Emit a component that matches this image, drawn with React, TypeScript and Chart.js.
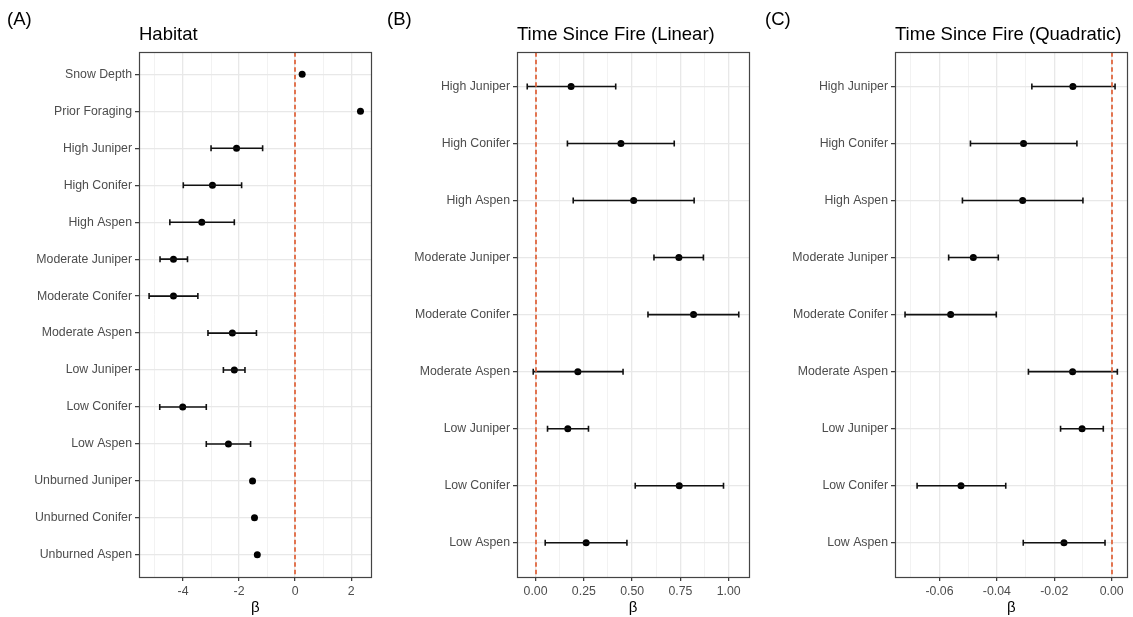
import React, { useEffect, useRef } from "react";
import { Chart, registerables } from "chart.js";

Chart.register(...registerables);

// ---------- Data ----------
const habitatCategories = [
  "Snow Depth", "Prior Foraging", "High Juniper", "High Conifer", "High Aspen",
  "Moderate Juniper", "Moderate Conifer", "Moderate Aspen", "Low Juniper",
  "Low Conifer", "Low Aspen", "Unburned Juniper", "Unburned Conifer", "Unburned Aspen",
];
const habitatEstimate = [0.25, 2.33, -2.09, -2.95, -3.33, -4.34, -4.34, -2.24, -2.17, -4.01, -2.38, -1.52, -1.45, -1.35];
const habitatLower = [null, null, -3.0, -3.99, -4.47, -4.82, -5.21, -3.11, -2.56, -4.83, -3.17, null, null, null];
const habitatUpper = [null, null, -1.16, -1.91, -2.17, -3.84, -3.47, -1.38, -1.79, -3.17, -1.59, null, null, null];
const habitatMajorTicks = [-4, -2, 0, 2];
const habitatTickLabels = ["-4", "-2", "0", "2"];
const habitatMinorTicks = [-5, -3, -1, 1];
const habitatRange = [-5.57, 2.72];

const fireCategories = [
  "High Juniper", "High Conifer", "High Aspen", "Moderate Juniper", "Moderate Conifer",
  "Moderate Aspen", "Low Juniper", "Low Conifer", "Low Aspen",
];
const linearEstimate = [0.184, 0.442, 0.508, 0.742, 0.818, 0.219, 0.167, 0.744, 0.262];
const linearLower = [-0.043, 0.165, 0.195, 0.613, 0.582, -0.012, 0.062, 0.516, 0.05];
const linearUpper = [0.415, 0.718, 0.821, 0.869, 1.052, 0.453, 0.274, 0.973, 0.473];
const linearMajorTicks = [0, 0.25, 0.5, 0.75, 1.0];
const linearTickLabels = ["0.00", "0.25", "0.50", "0.75", "1.00"];
const linearMinorTicks = [0.125, 0.375, 0.625, 0.875];
const linearRange = [-0.096, 1.105];

const quadEstimate = [-0.0135, -0.0307, -0.031, -0.0482, -0.0561, -0.0136, -0.0103, -0.0525, -0.0166];
const quadLower = [-0.0278, -0.0492, -0.052, -0.0568, -0.072, -0.029, -0.0178, -0.0678, -0.0308];
const quadUpper = [0.0012, -0.0121, -0.01, -0.0395, -0.0402, 0.002, -0.0029, -0.0369, -0.0023];
const quadMajorTicks = [-0.06, -0.04, -0.02, 0.0];
const quadTickLabels = ["-0.06", "-0.04", "-0.02", "0.00"];
const quadMinorTicks = [-0.07, -0.05, -0.03, -0.01];
const quadRange = [-0.0755, 0.0055];

const referenceValue = 0;

// ---------- Styling ----------
const FONT = "'Liberation Sans', Arial, Helvetica, sans-serif";
const CANVAS_H = 617;

type PanelProps = {
  tag: string;
  title: string;
  categories: string[];
  estimate: number[];
  lower: (number | null)[];
  upper: (number | null)[];
  majorTicks: number[];
  tickLabels: string[];
  minorTicks: number[];
  range: number[];
  left: number;
  width: number;
  yAxisWidth: number;
  rightPad: number;
  tagLeft: number;
};

const near = (a: number, b: number) => Math.abs(a - b) < 1e-9;

function Panel(p: PanelProps) {
  const ref = useRef<HTMLCanvasElement | null>(null);

  useEffect(() => {
    if (!ref.current) return;
    const n = p.categories.length;
    const isMajor = (v: number) => p.majorTicks.some((m) => near(m, v));

    const errorSets: any[] = [];
    p.estimate.forEach((_, i) => {
      const lo = p.lower[i];
      const hi = p.upper[i];
      if (lo === null || hi === null) return;
      errorSets.push({
        type: "scatter",
        showLine: true,
        data: [{ x: lo, y: i }, { x: hi, y: i }],
        borderColor: "#111111",
        borderWidth: 1.6,
        pointStyle: "line",
        pointRotation: 90,
        pointRadius: 3,
        pointBorderWidth: 1.6,
        pointBorderColor: "#111111",
        pointBackgroundColor: "#111111",
        fill: false,
      });
    });

    const frame = {
      id: "frame",
      afterDatasetsDraw(chart: any) {
        const { ctx, chartArea, scales } = chart;
        const x = Math.round(scales.x.getPixelForValue(referenceValue));
        ctx.save();
        ctx.strokeStyle = "#E0673F";
        ctx.lineWidth = 1.8;
        ctx.setLineDash([4.5, 3]);
        ctx.beginPath();
        ctx.moveTo(x, chartArea.top);
        ctx.lineTo(x, chartArea.bottom);
        ctx.stroke();
        ctx.restore();
      },
      afterDraw(chart: any) {
        const { ctx, chartArea } = chart;
        ctx.save();
        ctx.strokeStyle = "#444444";
        ctx.lineWidth = 1.2;
        ctx.strokeRect(
          Math.round(chartArea.left) + 0.5,
          Math.round(chartArea.top) + 0.5,
          Math.round(chartArea.right - chartArea.left),
          Math.round(chartArea.bottom - chartArea.top)
        );
        ctx.restore();
      },
    };

    const chart = new Chart(ref.current, {
      type: "scatter",
      data: {
        datasets: [
          ...errorSets,
          {
            type: "scatter",
            data: p.estimate.map((v, i) => ({ x: v, y: i })),
            pointRadius: 3.5,
            pointBackgroundColor: "#000000",
            pointBorderWidth: 0,
            pointBorderColor: "#000000",
          },
        ],
      },
      options: {
        responsive: false,
        animation: false,
        events: [],
        layout: { padding: { left: 0, right: p.rightPad, top: 0, bottom: 0 } },
        plugins: {
          legend: { display: false },
          tooltip: { enabled: false },
          title: {
            display: true,
            text: p.title,
            align: "start",
            fullSize: false,
            color: "#000000",
            font: { family: FONT, size: 18.5, weight: "normal" },
            padding: { top: 24, bottom: 6 },
          },
        },
        scales: {
          x: {
            type: "linear",
            min: p.range[0],
            max: p.range[1],
            afterBuildTicks: (scale: any) => {
              const all = [...p.majorTicks, ...p.minorTicks].sort((a, b) => a - b);
              scale.ticks = all.map((v) => ({ value: v }));
            },
            afterFit: (scale: any) => {
              scale.height = 40;
            },
            ticks: {
              autoSkip: false,
              maxRotation: 0,
              padding: 3,
              color: "#4d4d4d",
              font: { family: FONT, size: 12.3 },
              callback: (value: any) => {
                const idx = p.majorTicks.findIndex((m) => near(m, Number(value)));
                return idx >= 0 ? p.tickLabels[idx] : "";
              },
            },
            grid: {
              color: (ctx: any) => (ctx.tick && isMajor(ctx.tick.value) ? "#e8e8e8" : "#f2f2f2"),
              lineWidth: (ctx: any) => (ctx.tick && isMajor(ctx.tick.value) ? 1.3 : 1),
              drawTicks: true,
              tickLength: 4,
              tickWidth: 1.2,
              tickColor: (ctx: any) => (ctx.tick && isMajor(ctx.tick.value) ? "#333333" : "rgba(0,0,0,0)"),
            },
            border: { display: false },
            title: {
              display: true,
              text: "β",
              color: "#000000",
              font: { family: FONT, size: 15 },
              padding: 0,
            },
          },
          y: {
            type: "linear",
            reverse: true,
            min: -0.6,
            max: n - 1 + 0.6,
            afterBuildTicks: (scale: any) => {
              scale.ticks = p.categories.map((_, i) => ({ value: i }));
            },
            afterFit: (scale: any) => {
              scale.width = p.yAxisWidth;
            },
            ticks: {
              autoSkip: false,
              padding: 3,
              color: "#4d4d4d",
              font: { family: FONT, size: 12.3 },
              callback: (value: any) => p.categories[Number(value)] ?? "",
            },
            grid: {
              color: "#e8e8e8",
              lineWidth: 1.3,
              drawTicks: true,
              tickLength: 4,
              tickWidth: 1.2,
              tickColor: "#333333",
            },
            border: { display: false },
          },
        },
      },
      plugins: [frame],
    } as any);

    return () => chart.destroy();
  }, []);

  return (
    <div style={{ position: "absolute", left: p.left, top: 0, width: p.width, height: CANVAS_H }}>
      <canvas ref={ref} width={p.width} height={CANVAS_H} style={{ display: "block" }} />
      <div
        style={{
          position: "absolute",
          left: p.tagLeft,
          top: 9,
          fontFamily: FONT,
          fontSize: 18.5,
          lineHeight: "20px",
          color: "#000",
        }}
      >
        {p.tag}
      </div>
    </div>
  );
}

export default function App() {
  return (
    <div
      style={{
        position: "fixed",
        left: 0,
        top: 0,
        width: 1133,
        height: CANVAS_H,
        background: "#ffffff",
        overflow: "hidden",
      }}
    >
      <Panel
        tag="(A)"
        title="Habitat"
        categories={habitatCategories}
        estimate={habitatEstimate}
        lower={habitatLower}
        upper={habitatUpper}
        majorTicks={habitatMajorTicks}
        tickLabels={habitatTickLabels}
        minorTicks={habitatMinorTicks}
        range={habitatRange}
        left={0}
        width={377}
        yAxisWidth={139}
        rightPad={5}
        tagLeft={7}
      />
      <Panel
        tag="(B)"
        title="Time Since Fire (Linear)"
        categories={fireCategories}
        estimate={linearEstimate}
        lower={linearLower}
        upper={linearUpper}
        majorTicks={linearMajorTicks}
        tickLabels={linearTickLabels}
        minorTicks={linearMinorTicks}
        range={linearRange}
        left={377}
        width={378}
        yAxisWidth={140}
        rightPad={6}
        tagLeft={10}
      />
      <Panel
        tag="(C)"
        title="Time Since Fire (Quadratic)"
        categories={fireCategories}
        estimate={quadEstimate}
        lower={quadLower}
        upper={quadUpper}
        majorTicks={quadMajorTicks}
        tickLabels={quadTickLabels}
        minorTicks={quadMinorTicks}
        range={quadRange}
        left={755}
        width={378}
        yAxisWidth={140}
        rightPad={5}
        tagLeft={10}
      />
    </div>
  );
}
